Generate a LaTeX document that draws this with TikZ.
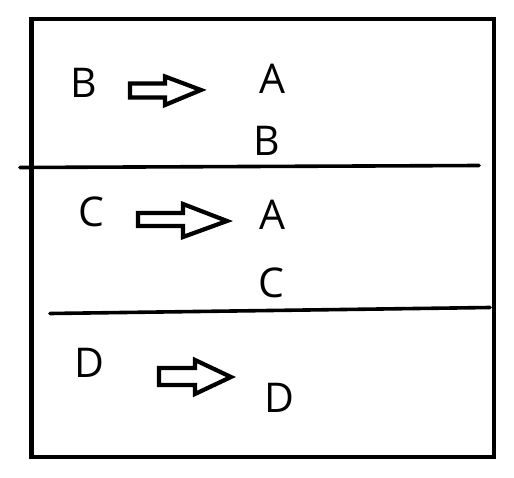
\documentclass[tikz,border=0pt]{standalone}
\usepackage{fontspec}
\setmainfont{Open Sans}
\begin{document}
\begin{tikzpicture}[x=1pt,y=-1pt,
  lbl/.style={inner sep=0pt,font=\fontsize{41}{41}\selectfont},
  frame/.style={line width=4.3pt},
  divider/.style={line width=3.6pt,line cap=round},
  blockarrow/.style={line width=4.2pt,line join=miter,fill=white}]
\useasboundingbox (0,0) rectangle (514,478);
\draw[frame] (31.5,19) rectangle (494,457);
\draw[divider] (20,167.5) -- (479,165.5);
\draw[divider] (50,313.5) -- (490,307.5);
% labels
\node[lbl] (b1) at (84,82.5) {B};
\node[lbl] (a1) at (272.5,79) {A};
\node[lbl] (b2) at (267,141) {B};
\node[lbl] (c1) at (91,212) {C};
\node[lbl] (a2) at (272.5,215) {A};
\node[lbl] (c2) at (271.5,282.5) {C};
\node[lbl] (d1) at (89,362.5) {D};
\node[lbl] (d2) at (279,398) {D};
% block arrows
\draw[blockarrow] (130,83.5) -- (165,83.5) -- (165,76.5) -- (201,90) -- (165,105) -- (165,97.5) -- (130,97.5) -- cycle;
\draw[blockarrow] (138,213) -- (183,213) -- (183,204) -- (227,221) -- (183,237) -- (183,226) -- (138,226) -- cycle;
\draw[blockarrow] (159,368) -- (195,368) -- (195,360) -- (231,377) -- (195,394) -- (195,385) -- (159,385) -- cycle;
\end{tikzpicture}
\end{document}
